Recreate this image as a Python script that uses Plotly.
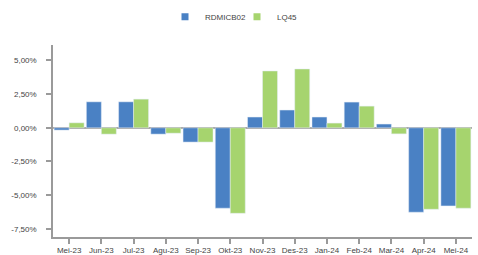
import plotly.graph_objects as go

categories = ["Mei-23", "Jun-23", "Jul-23", "Agu-23", "Sep-23", "Okt-23", "Nov-23",
              "Des-23", "Jan-24", "Feb-24", "Mar-24", "Apr-24", "Mei-24"]
rdmicb02 = [-0.17, 1.93, 1.93, -0.47, -1.06, -5.97, 0.80, 1.32, 0.80, 1.91, 0.28, -6.27, -5.80]
lq45 = [0.37, -0.47, 2.13, -0.40, -1.06, -6.35, 4.22, 4.37, 0.35, 1.61, -0.45, -6.05, -5.97]
ytickvals = [-7.5, -5.0, -2.5, 0.0, 2.5, 5.0]
yticktext = ["-7,50%", "-5,00%", "-2,50%", "0,00%", "2,50%", "5,00%"]

BLUE = "#4a81c4"
GREEN = "#a6d46e"

fig = go.Figure()
fig.add_trace(go.Bar(x=categories, y=rdmicb02, name="RDMICB02", marker_color=BLUE,
                     showlegend=False, legendgroup="a"))
fig.add_trace(go.Bar(x=categories, y=lq45, name="LQ45", marker_color=GREEN,
                     showlegend=False, legendgroup="b"))
# legend entries with small square symbols
fig.add_trace(go.Scatter(x=[None], y=[None], mode="markers", name="RDMICB02",
                         marker=dict(symbol="square", size=7, color=BLUE), legendgroup="a"))
fig.add_trace(go.Scatter(x=[None], y=[None], mode="markers", name="LQ45",
                         marker=dict(symbol="square", size=7, color=GREEN), legendgroup="b"))

fig.update_layout(
    width=478, height=255,
    margin=dict(l=53, r=6, t=45, b=18),
    plot_bgcolor="white", paper_bgcolor="white",
    barmode="group", bargap=0.07, bargroupgap=0,
    font=dict(family="Liberation Sans, Arial, sans-serif", size=8, color="#444"),
    legend=dict(orientation="h", x=165 / 478, xanchor="left", xref="container",
                y=0.991, yanchor="top", yref="container",
                entrywidth=27, entrywidthmode="pixels",
                font=dict(size=8, color="#444")),
    showlegend=True,
)
fig.update_xaxes(showline=True, linecolor="#9a9a9a", linewidth=1.5, ticks="outside",
                 tickcolor="#9a9a9a", ticklen=5, tickwidth=1.5, showgrid=False,
                 tickangle=0, automargin=False, tickfont=dict(size=8, color="#444"))
fig.update_yaxes(range=[-8.11, 6.15], tickvals=ytickvals, ticktext=yticktext,
                 showline=True, linecolor="#9a9a9a", linewidth=1.5, ticks="outside",
                 tickcolor="#9a9a9a", ticklen=5, tickwidth=1.5, showgrid=False,
                 zeroline=True, zerolinecolor="#aaaaaa", zerolinewidth=1.5,
                 ticklabelstandoff=8, automargin=False,
                 tickfont=dict(size=8, color="#444"))

fig.write_html("out.html", config={"displayModeBar": False},
               post_script="document.body.style.margin='0';")
